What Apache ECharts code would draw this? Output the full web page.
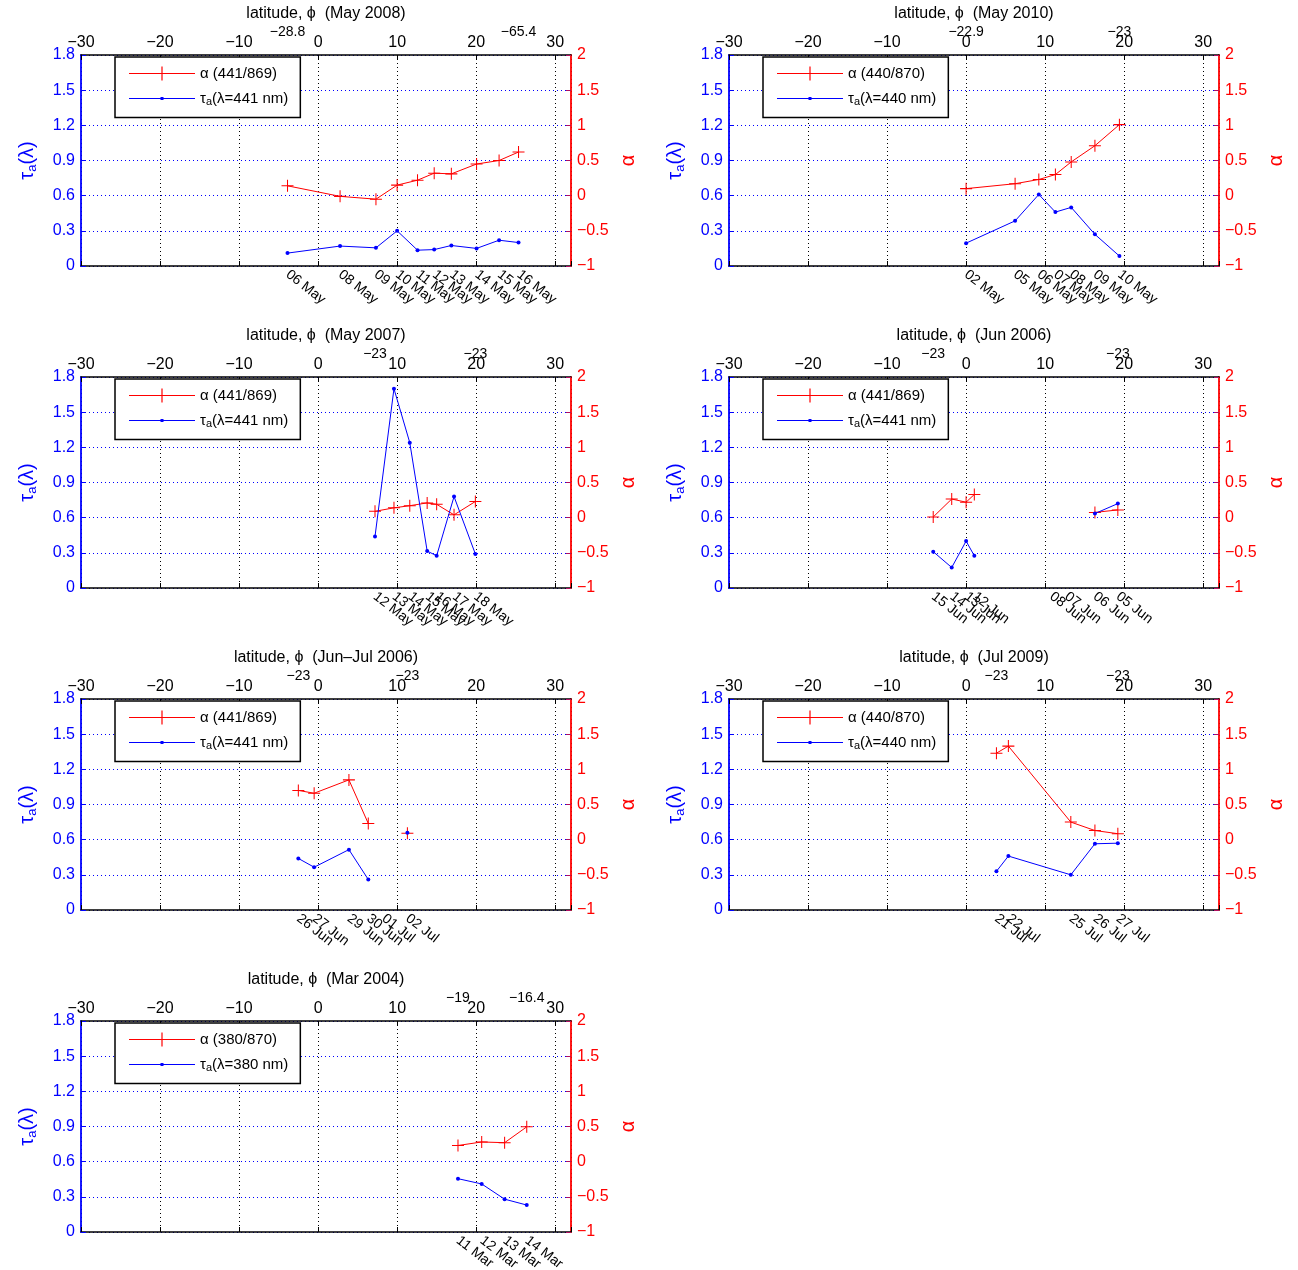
<!DOCTYPE html>
<html><head><meta charset="utf-8">
<script src="https://cdn.jsdelivr.net/npm/echarts@6/dist/echarts.min.js"></script>
<style>html,body{margin:0;padding:0;background:#fff}#c{width:1298px;height:1270px}</style>
</head><body><div id="c"></div>
<script>
// ---------------- DATA ----------------
const latTicks = [-30, -20, -10, 0, 10, 20, 30];

// May 2008
const may08Lat   = [-3.87, 2.78, 7.32, 10.0, 12.58, 14.69, 16.86, 20.05, 22.9, 25.36];
const may08Dates = ['06 May','08 May','09 May','10 May','11 May','12 May','13 May','14 May','15 May','16 May'];
const may08Alpha = [0.14, -0.01, -0.05, 0.15, 0.22, 0.32, 0.31, 0.45, 0.50, 0.62];
const may08Tau   = [0.11, 0.17, 0.155, 0.30, 0.135, 0.14, 0.175, 0.15, 0.22, 0.20];
const may08Lon   = ['−28.8', '−65.4'];

// May 2010
const may10Lat   = [0.0, 6.2, 9.2, 11.3, 13.3, 16.3, 19.4];
const may10Dates = ['02 May','05 May','06 May','07 May','08 May','09 May','10 May'];
const may10Alpha = [0.10, 0.17, 0.23, 0.30, 0.48, 0.71, 1.01];
const may10Tau   = [0.195, 0.385, 0.61, 0.46, 0.50, 0.27, 0.085];
const may10Lon   = ['−22.9', '−23'];

// May 2007
const may07Lat   = [7.2, 9.6, 11.6, 13.8, 15.0, 17.2, 19.9];
const may07Dates = ['12 May','13 May','14 May','15 May','16 May','17 May','18 May'];
const may07Alpha = [0.09, 0.14, 0.17, 0.21, 0.19, 0.04, 0.23];
const may07Tau   = [0.44, 1.70, 1.24, 0.315, 0.275, 0.78, 0.29];
const may07Lon   = ['−23', '−23'];

// Jun 2006
const jun06Lat   = [-4.16, -1.82, 0.0, 1.04, 10.8, 12.7, 16.3, 19.2];
const jun06Dates = ['15 Jun','14 Jun','13 Jun','12 Jun','08 Jun','07 Jun','06 Jun','05 Jun'];
const jun06Alpha = [0.01, 0.265, 0.22, 0.33, null, null, 0.075, 0.11];
const jun06Tau   = [0.31, 0.175, 0.40, 0.275, null, null, 0.635, 0.72];
const jun06Lon   = ['−23', '−23'];

// Jun-Jul 2006
const junjul06Lat   = [-2.5, -0.5, 3.9, 6.35, 8.3, 11.3];
const junjul06Dates = ['26 Jun','27 Jun','29 Jun','30 Jun','01 Jul','02 Jul'];
const junjul06Alpha = [0.70, 0.66, 0.85, 0.23, null, 0.09];
const junjul06Tau   = [0.44, 0.365, 0.515, 0.26, null, 0.66];
const junjul06Lon   = ['−23', '−23'];

// Jul 2009
const jul09Lat   = [3.84, 5.35, 13.25, 16.3, 19.2];
const jul09Dates = ['21 Jul','22 Jul','25 Jul','26 Jul','27 Jul'];
const jul09Alpha = [1.23, 1.33, 0.25, 0.13, 0.085];
const jul09Tau   = [0.33, 0.46, 0.30, 0.565, 0.57];
const jul09Lon   = ['−23', '−23'];

// Mar 2004
const mar04Lat   = [17.7, 20.7, 23.6, 26.4];
const mar04Dates = ['11 Mar','12 Mar','13 Mar','14 Mar'];
const mar04Alpha = [0.23, 0.28, 0.27, 0.495];
const mar04Tau   = [0.455, 0.41, 0.28, 0.23];
const mar04Lon   = ['−19', '−16.4'];

const panelTitles = ['May 2008','May 2010','May 2007','Jun 2006','Jun–Jul 2006','Jul 2009','Mar 2004'];
const alphaNames  = ['α (441/869)','α (440/870)','α (441/869)','α (441/869)','α (441/869)','α (440/870)','α (380/870)'];
const tauNames    = ['τa(λ=441 nm)','τa(λ=440 nm)','τa(λ=441 nm)','τa(λ=441 nm)','τa(λ=441 nm)','τa(λ=440 nm)','τa(λ=380 nm)'];

const panels = [
  {lat: may08Lat, dates: may08Dates, alpha: may08Alpha, tau: may08Tau, lon: may08Lon},
  {lat: may10Lat, dates: may10Dates, alpha: may10Alpha, tau: may10Tau, lon: may10Lon},
  {lat: may07Lat, dates: may07Dates, alpha: may07Alpha, tau: may07Tau, lon: may07Lon},
  {lat: jun06Lat, dates: jun06Dates, alpha: jun06Alpha, tau: jun06Tau, lon: jun06Lon},
  {lat: junjul06Lat, dates: junjul06Dates, alpha: junjul06Alpha, tau: junjul06Tau, lon: junjul06Lon},
  {lat: jul09Lat, dates: jul09Dates, alpha: jul09Alpha, tau: jul09Tau, lon: jul09Lon},
  {lat: mar04Lat, dates: mar04Dates, alpha: mar04Alpha, tau: mar04Tau, lon: mar04Lon}
];

// ---------------- STYLE / LAYOUT ----------------
const FONT = "'Liberation Sans', Arial, Helvetica, sans-serif";
const RED = '#ff0000', BLUE = '#0000ff';
const PLUS = 'path://M-0.6,-7H0.6V-0.6H7V0.6H0.6V7H-0.6V0.6H-7V-0.6H-0.6Z';
const RED_ICON = 'path://M0,6.5H66V7.5H0Z M32.4,0H33.6V14H32.4Z M26,6.4H40V7.6H26Z';
const BLUE_ICON = 'path://M0,0h0.01v0.01h-0.01Z M65.99,13.99h0.01v0.01h-0.01Z M0,6.5H66V7.5H0Z M31.5,5.5H34.5V8.5H31.5Z';
const minus = v => String(v).replace('-', '\u2212');

const option = {
  animation: false,
  backgroundColor: '#fff',
  textStyle: {fontFamily: FONT},
  grid: [], xAxis: [], yAxis: [], legend: [], series: []
};

panels.forEach((p, i) => {
  const col = i % 2, row = Math.floor(i / 2);
  const left = col ? 729 : 81;
  const top = 55 + row * 322;
  option.grid.push({left: left, top: top, width: 490, height: 211, containLabel: false, outerBoundsMode: 'none'});
  const gx = option.xAxis.length;
  const gy = option.yAxis.length;
  const n = p.lat.length;

  // top latitude axis
  option.xAxis.push({
    gridIndex: i, type: 'value', position: 'top', min: latTicks[0], max: 32, interval: 10,
    name: 'latitude, \u03d5  (' + panelTitles[i] + ')', nameLocation: 'middle', nameGap: 33,
    nameTextStyle: {fontSize: 16, color: '#000', fontFamily: FONT},
    axisLine: {show: true, onZero: false, lineStyle: {color: '#000', width: 1.5}},
    axisTick: {show: true, inside: true, length: 5, lineStyle: {color: '#000', width: 1}},
    axisLabel: {fontSize: 16, color: '#000', margin: 4, showMaxLabel: false, showMinLabel: true, hideOverlap: false, fontFamily: FONT, formatter: minus},
    splitLine: {show: true, lineStyle: {color: '#000', type: [1, 3], width: 1}}
  });
  // bottom axis (line + inner ticks; date labels are drawn by a label series below)
  option.xAxis.push({
    gridIndex: i, type: 'value', position: 'bottom', min: latTicks[0], max: 32, interval: 10,
    axisLine: {show: true, onZero: false, lineStyle: {color: '#000', width: 1.5}},
    axisTick: {show: true, inside: true, length: 5, lineStyle: {color: '#000', width: 1}},
    axisLabel: {show: false},
    splitLine: {show: false}
  });
  // top longitude labels (first / last point)
  option.xAxis.push({
    gridIndex: i, type: 'value', position: 'top', offset: 0, min: latTicks[0], max: 32,
    axisLine: {show: false}, axisTick: {show: false}, splitLine: {show: false},
    axisLabel: {customValues: [p.lat[0], p.lat[n - 1]], fontSize: 14, margin: 16, color: '#000', fontFamily: FONT,
      showMinLabel: true, showMaxLabel: true, hideOverlap: false,
      formatter: v => (Math.abs(v - p.lat[0]) < 1e-6 ? p.lon[0] : p.lon[1])}
  });

  // left tau axis
  option.yAxis.push({
    gridIndex: i, type: 'value', position: 'left', min: 0, max: 1.8, interval: 0.3,
    name: '{t|τ}{s|a}{t|(λ)}', nameLocation: 'middle', nameGap: 42, nameRotate: 90,
    nameTextStyle: {color: BLUE, rich: {
      t: {fontSize: 20, color: BLUE, fontFamily: FONT, lineHeight: 24},
      s: {fontSize: 13, color: BLUE, fontFamily: FONT, lineHeight: 10, verticalAlign: 'bottom'}
    }},
    axisLine: {show: true, onZero: false, lineStyle: {color: BLUE, width: 1.8}},
    axisTick: {show: true, inside: true, length: 5, lineStyle: {color: BLUE}},
    axisLabel: {fontSize: 16, color: BLUE, margin: 6, fontFamily: FONT, showMinLabel: true, showMaxLabel: true,
      formatter: v => (Math.abs(v) < 1e-9 ? '0' : (+v).toFixed(1))},
    splitLine: {show: true, lineStyle: {color: BLUE, type: [1, 3], width: 1}}
  });
  // right alpha axis
  option.yAxis.push({
    gridIndex: i, type: 'value', position: 'right', min: -1, max: 2, interval: 0.5,
    name: 'α', nameLocation: 'middle', nameGap: 47, nameRotate: 90,
    nameTextStyle: {fontSize: 20, color: RED, fontFamily: FONT},
    axisLine: {show: true, onZero: false, lineStyle: {color: RED, width: 1.8}},
    axisTick: {show: true, inside: true, length: 5, lineStyle: {color: '#b01060'}},
    axisLabel: {fontSize: 16, color: RED, margin: 6, fontFamily: FONT, showMinLabel: true, showMaxLabel: true, formatter: minus},
    splitLine: {show: false}
  });

  option.series.push({
    type: 'line', name: alphaNames[i], xAxisIndex: gx, yAxisIndex: gy + 1,
    data: p.lat.map((x, k) => [x, p.alpha[k] == null ? '-' : p.alpha[k]]),
    symbol: PLUS, symbolSize: 12, showSymbol: true,
    itemStyle: {color: RED, borderWidth: 0}, lineStyle: {color: RED, width: 1},
    emphasis: {disabled: true}, z: 3
  });
  option.series.push({
    type: 'line', name: tauNames[i], xAxisIndex: gx, yAxisIndex: gy,
    data: p.lat.map((x, k) => [x, p.tau[k] == null ? '-' : p.tau[k]]),
    symbol: 'circle', symbolSize: 4, showSymbol: true,
    itemStyle: {color: BLUE, borderWidth: 0}, lineStyle: {color: BLUE, width: 1},
    emphasis: {disabled: true}, z: 4
  });
  // date labels along the bottom axis, one per observation
  option.series.push({
    type: 'scatter', name: 'dates' + i, xAxisIndex: gx, yAxisIndex: gy,
    data: p.lat.map((x, k) => ({value: [x, 0], name: p.dates[k]})),
    symbol: 'circle', symbolSize: 0, clip: false, silent: true,
    itemStyle: {color: '#000', opacity: 1},
    label: {show: true, position: [0, 7], align: 'left', verticalAlign: 'middle', rotate: -38,
      fontSize: 14, color: '#000', opacity: 1, fontFamily: FONT, formatter: d => d.name},
    labelLayout: {hideOverlap: false},
    emphasis: {disabled: true}, z: 5
  });

  option.legend.push({
    left: left + 34, top: top + 2, orient: 'vertical',
    padding: [9, 12, 10, 14], itemGap: 10, itemWidth: 66, itemHeight: 14,
    backgroundColor: '#fff', borderColor: '#000', borderWidth: 1.5, borderRadius: 0,
    selectedMode: false,
    data: [
      {name: alphaNames[i], icon: RED_ICON, itemStyle: {color: RED, borderWidth: 0}},
      {name: tauNames[i], icon: BLUE_ICON, itemStyle: {color: BLUE, borderWidth: 0}}
    ],
    formatter: nm => (nm.indexOf('τa') === 0 ? '{n|τ}{s|a}{n|' + nm.slice(2) + '}' : '{n|' + nm + '}'),
    textStyle: {fontSize: 15, color: '#000', fontFamily: FONT, rich: {
      n: {fontSize: 15, fontFamily: FONT, lineHeight: 18, color: '#000'},
      s: {fontSize: 11, fontFamily: FONT, lineHeight: 8, verticalAlign: 'bottom', color: '#000'}
    }}
  });
});

const chart = echarts.init(document.getElementById('c'), null, {renderer: 'canvas'});
chart.setOption(option);
</script></body></html>
